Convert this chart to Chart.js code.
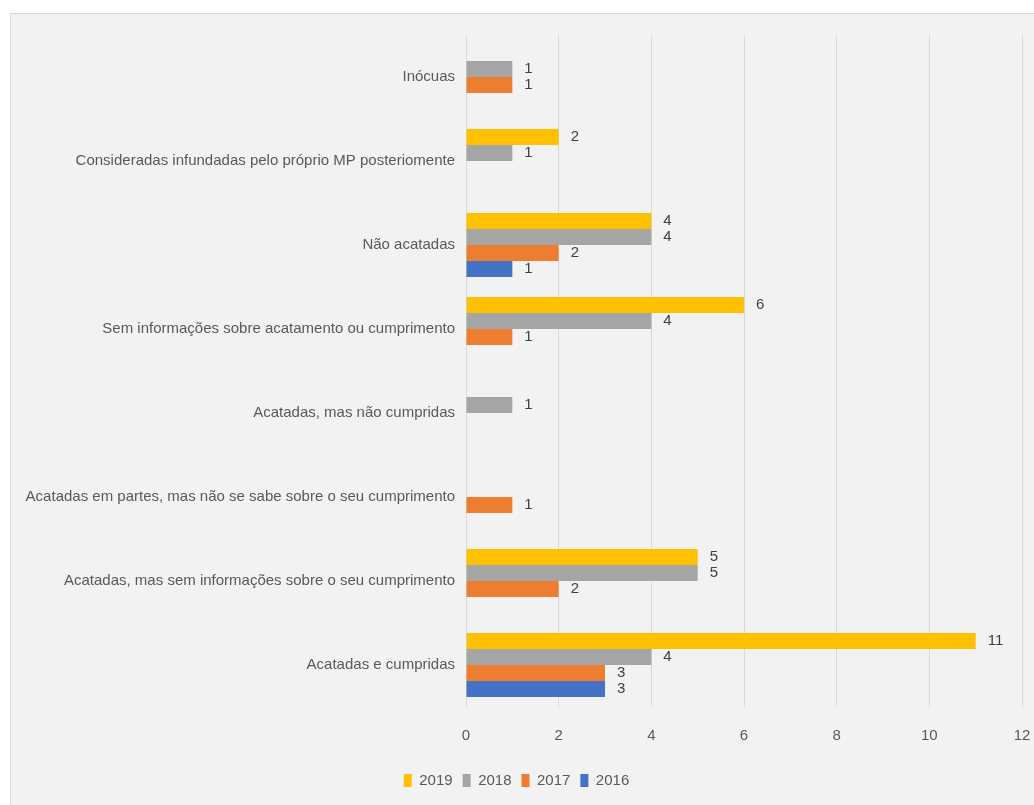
<!DOCTYPE html>
<html>
<head>
<meta charset="utf-8">
<script src="https://cdn.jsdelivr.net/npm/chart.js@4"></script>
<style>
  body { margin: 0; background: #ffffff; }
  #box {
    position: absolute;
    left: 10px;
    top: 13px;
    width: 1023px;
    height: 791px;
    border: 1px solid #d9d9d9;
    background: #f2f2f2;
  }
</style>
</head>
<body>
<div id="box"><canvas id="chart" width="1023" height="791"></canvas></div>
<script>
const categories = [
  "Inócuas",
  "Consideradas infundadas pelo próprio MP posteriomente",
  "Não acatadas",
  "Sem informações sobre acatamento ou cumprimento",
  "Acatadas, mas não cumpridas",
  "Acatadas em partes, mas não se sabe sobre o seu cumprimento",
  "Acatadas, mas sem informações sobre o seu cumprimento",
  "Acatadas e cumpridas",
];
const years = ["2019", "2018", "2017", "2016"];
const values2019 = [0, 2, 4, 6, 0, 0, 5, 11];
const values2018 = [1, 1, 4, 4, 1, 0, 5, 4];
const values2017 = [1, 0, 2, 1, 0, 1, 2, 3];
const values2016 = [0, 0, 1, 0, 0, 0, 0, 3];
const xTicks = [0, 2, 4, 6, 8, 10, 12];

const colors = ["#FFC000", "#A5A5A5", "#ED7D31", "#4472C4"];
const textColor = "#595959";
const fontFamily = "'Liberation Sans', Arial, sans-serif";

// draws the number to the right of each bar, skipping zeros
const barLabels = {
  id: "barLabels",
  afterDatasetsDraw(chart) {
    const ctx = chart.ctx;
    ctx.save();
    ctx.font = "15px " + fontFamily;
    ctx.fillStyle = "#404040";
    ctx.textAlign = "left";
    ctx.textBaseline = "middle";
    chart.data.datasets.forEach((ds, i) => {
      const meta = chart.getDatasetMeta(i);
      meta.data.forEach((bar, j) => {
        const v = ds.data[j];
        if (!v) return;
        ctx.fillText(String(v), bar.x + 12, bar.y);
      });
    });
    ctx.restore();
  },
};

const series = [values2019, values2018, values2017, values2016];

new Chart(document.getElementById("chart"), {
  type: "bar",
  data: {
    labels: categories,
    datasets: years.map((y, i) => ({
      label: y,
      data: series[i],
      backgroundColor: colors[i],
      borderWidth: 0,
    })),
  },
  plugins: [barLabels],
  options: {
    indexAxis: "y",
    responsive: false,
    animation: false,
    categoryPercentage: 0.76,
    barPercentage: 1.0,
    layout: {
      padding: { top: 21, right: 12, left: 0, bottom: 7 },
    },
    scales: {
      x: {
        min: 0,
        max: 12,
        afterBuildTicks(scale) {
          scale.ticks = xTicks.map((v) => ({ value: v }));
        },
        afterFit(scale) {
          scale.height = 56;
          scale.paddingLeft = 0;
          scale.paddingRight = 0;
        },
        grid: {
          color: "#d9d9d9",
          lineWidth: 1,
          drawTicks: false,
        },
        border: { display: false },
        ticks: {
          padding: 20,
          color: textColor,
          font: { size: 15, family: fontFamily },
        },
      },
      y: {
        afterFit(scale) {
          scale.width = 455;
          scale.paddingTop = 0;
          scale.paddingBottom = 0;
        },
        grid: { display: false },
        border: { display: false },
        ticks: {
          padding: 3,
          color: textColor,
          autoSkip: false,
          font: { size: 15, family: fontFamily },
        },
      },
    },
    plugins: {
      legend: {
        position: "bottom",
        labels: {
          boxWidth: 8,
          boxHeight: 13,
          padding: 10,
          color: textColor,
          font: { size: 15, family: fontFamily },
        },
      },
      tooltip: { enabled: false },
    },
  },
});
</script>
</body>
</html>
